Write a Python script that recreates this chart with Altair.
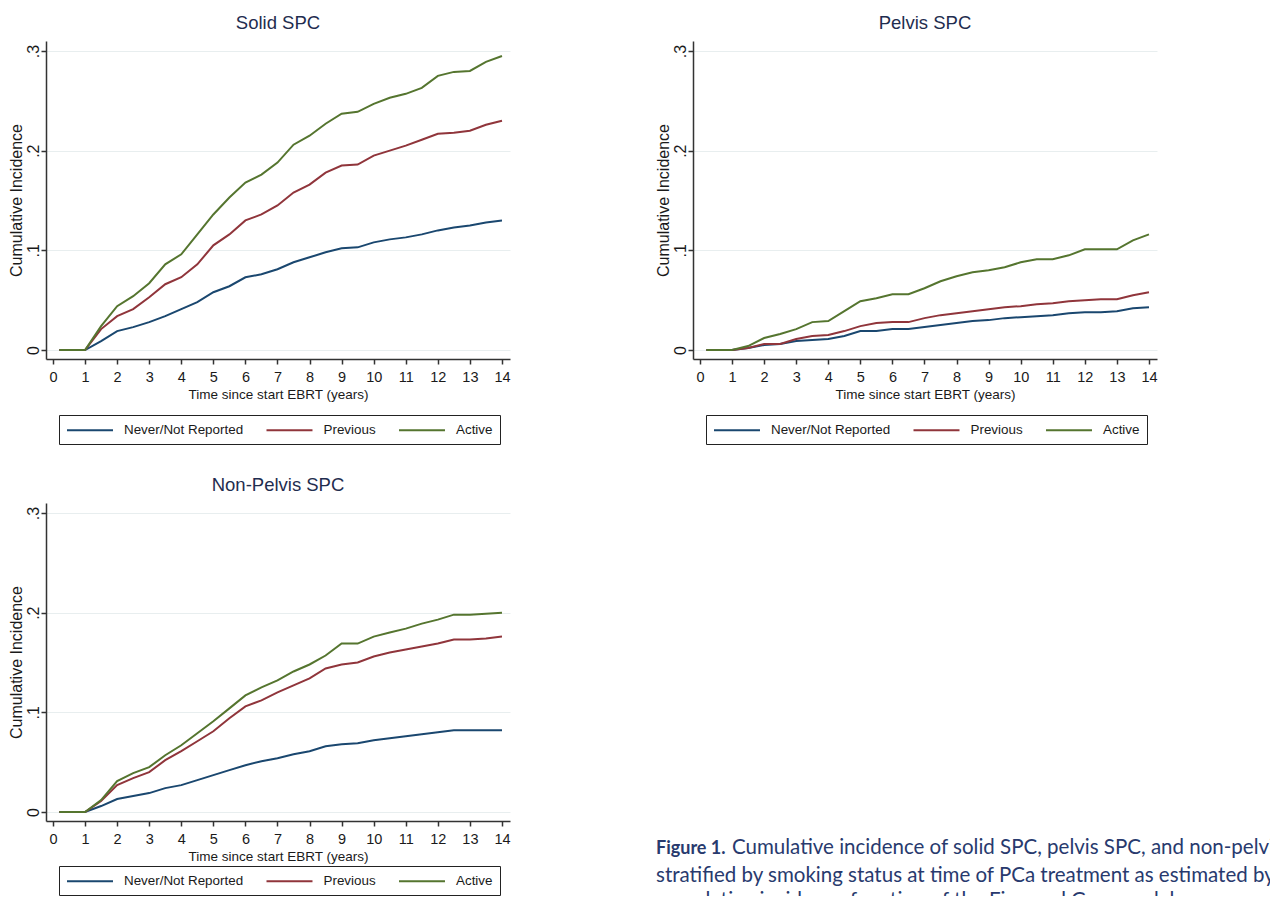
import altair as alt
import pandas as pd

# ---------------- data ----------------
TIMES = [0.2, 1.0, 1.5, 2.0, 2.5, 3.0, 3.5, 4.0, 4.5, 5.0, 5.5, 6.0, 6.5, 7.0,
         7.5, 8.0, 8.5, 9.0, 9.5, 10.0, 10.5, 11.0, 11.5, 12.0, 12.5, 13.0, 13.5, 14.0]

GROUPS = ["Never/Not Reported", "Previous", "Active"]
COLORS = ["#1a476f", "#90353b", "#55752f"]

solid_never = [0, 0, .009, .019, .023, .028, .034, .041, .048, .058, .064, .073, .076, .081,
               .088, .093, .098, .102, .103, .108, .111, .113, .116, .120, .123, .125, .128, .130]
solid_prev = [0, 0, .021, .034, .041, .053, .066, .073, .086, .105, .116, .130, .136, .145,
              .158, .166, .178, .185, .186, .195, .200, .205, .211, .217, .218, .220, .226, .230]
solid_active = [0, 0, .024, .044, .054, .067, .086, .096, .116, .136, .153, .168, .176, .188,
                .206, .215, .227, .237, .239, .247, .253, .257, .263, .275, .279, .280, .289, .295]

pelvis_never = [0, 0, .002, .005, .006, .009, .010, .011, .014, .019, .019, .021, .021, .023,
                .025, .027, .029, .030, .032, .033, .034, .035, .037, .038, .038, .039, .042, .043]
pelvis_prev = [0, 0, .002, .006, .006, .011, .014, .015, .019, .024, .027, .028, .028, .032,
               .035, .037, .039, .041, .043, .044, .046, .047, .049, .050, .051, .051, .055, .058]
pelvis_active = [0, 0, .004, .012, .016, .021, .028, .029, .039, .049, .052, .056, .056, .062,
                 .069, .074, .078, .080, .083, .088, .091, .091, .095, .101, .101, .101, .110, .116]

nonpelvis_never = [0, 0, .006, .013, .016, .019, .024, .027, .032, .037, .042, .047, .051, .054,
                   .058, .061, .066, .068, .069, .072, .074, .076, .078, .080, .082, .082, .082, .082]
nonpelvis_prev = [0, 0, .011, .027, .034, .040, .052, .061, .071, .081, .094, .106, .112, .120,
                  .127, .134, .144, .148, .150, .156, .160, .163, .166, .169, .173, .173, .174, .176]
nonpelvis_active = [0, 0, .012, .031, .039, .045, .057, .067, .079, .091, .104, .117, .125, .132,
                    .141, .148, .157, .169, .169, .176, .180, .184, .189, .193, .198, .198, .199, .200]

PANEL_TITLES = ["Solid SPC", "Pelvis SPC", "Non-Pelvis SPC"]
X_TICKS = list(range(0, 15))
Y_TICKS = [0, 0.1, 0.2, 0.3]
X_TITLE = "Time since start EBRT (years)"
Y_TITLE = "Cumulative Incidence"

CAP_BOLD = "Figure 1."
CAP_LINE1 = "Cumulative incidence of solid SPC, pelvis SPC, and non-pelvis SPC"
CAP_REST = ["stratified by smoking status at time of PCa treatment as estimated by the",
            "cumulative incidence function of the Fine and Gray model."]

# ---------------- styling ----------------
SANS = "Liberation Sans, Arial, sans-serif"
CAPFONT = "Lato, Open Sans, sans-serif"
CAP_COL = "#283a6e"
AXIS_COL = "#333333"
TXT_COL = "#1a1a1a"
W, H = 464, 318


def panel(title, series, legend_y):
    rows = []
    for g, vals in zip(GROUPS, series):
        for t, v in zip(TIMES, vals):
            rows.append({"t": t, "v": v, "g": g})
    df = pd.DataFrame(rows)
    return (
        alt.Chart(df, title=alt.Title(title, font=SANS, fontSize=18.5, fontWeight="normal",
                                      color="#1f2d4f", anchor="middle", frame="group", offset=8.5))
        .mark_line(strokeWidth=2, clip=True)
        .encode(
            x=alt.X("t:Q",
                    scale=alt.Scale(domain=[-0.218, 14.25], nice=False, zero=False),
                    axis=alt.Axis(values=X_TICKS, format="d", title=X_TITLE, grid=False,
                                  labelFont=SANS, labelFontSize=14.5, labelColor=TXT_COL,
                                  labelPadding=6, labelFlush=False, labelOverlap=False,
                                  tickSize=5, tickColor=AXIS_COL, tickWidth=1.5,
                                  domainColor=AXIS_COL, domainWidth=1.5,
                                  titleFont=SANS, titleFontSize=13.5, titleFontWeight="normal",
                                  titleColor=TXT_COL, titlePadding=4)),
            y=alt.Y("v:Q",
                    scale=alt.Scale(domain=[-0.009, 0.31], nice=False, zero=False),
                    axis=alt.Axis(values=Y_TICKS,
                                  labelExpr="datum.value == 0 ? '0' : '.' + format(datum.value * 10, '.0f')",
                                  labelAngle=270, labelAlign="center", labelBaseline="alphabetic",
                                  labelFont=SANS, labelFontSize=16, labelColor=TXT_COL, labelPadding=3,
                                  tickSize=5, tickColor=AXIS_COL, tickWidth=1.5,
                                  domainColor=AXIS_COL, domainWidth=1.5,
                                  grid=True, gridColor="#e8eeef", gridWidth=1,
                                  title=Y_TITLE, titleFont=SANS, titleFontSize=16,
                                  titleFontWeight="normal", titleColor=TXT_COL, titlePadding=0.5)),
            color=alt.Color("g:N",
                            scale=alt.Scale(domain=GROUPS, range=COLORS),
                            legend=alt.Legend(title=None, orient="none", legendX=13, legendY=legend_y,
                                              direction="horizontal", columns=3,
                                              symbolType="M-1,0H5.57", symbolSize=196,
                                              symbolStrokeWidth=2, labelOffset=42,
                                              labelFont=SANS, labelFontSize=13.4, labelColor=TXT_COL,
                                              labelLimit=300, padding=7, columnPadding=18.5,
                                              strokeColor="#222222", fillColor="white")),
        )
        .properties(width=W, height=H)
    )


p1 = panel(PANEL_TITLES[0], [solid_never, solid_prev, solid_active], 374)
p2 = panel(PANEL_TITLES[1], [pelvis_never, pelvis_prev, pelvis_active], 374)
p3 = panel(PANEL_TITLES[2], [nonpelvis_never, nonpelvis_prev, nonpelvis_active], 363)

cap_bold = alt.Chart(pd.DataFrame({"txt": [CAP_BOLD]})).mark_text(
    font=CAPFONT, fontSize=18, fontWeight="bold", color=CAP_COL,
    align="left", baseline="alphabetic", clip=True
).encode(text="txt:N", x=alt.value(0), y=alt.value(351))

cap_l1 = alt.Chart(pd.DataFrame({"txt": [CAP_LINE1]})).mark_text(
    font=CAPFONT, fontSize=20.5, color=CAP_COL,
    align="left", baseline="alphabetic", clip=True
).encode(text="txt:N", x=alt.value(76), y=alt.value(351))

cap_rest = alt.Chart(pd.DataFrame({"txt": ["\n".join(CAP_REST)]})).mark_text(
    font=CAPFONT, fontSize=20.5, color=CAP_COL, lineBreak="\n", lineHeight=25,
    align="left", baseline="alphabetic", clip=True
).encode(text="txt:N", x=alt.value(0), y=alt.value(379))

caption = alt.layer(cap_bold, cap_l1, cap_rest).properties(width=614, height=393)

row1 = (alt.hconcat(p1, p2, spacing=183, bounds="flush")
        .resolve_scale(color="independent").resolve_legend(color="independent"))
row2 = (alt.hconcat(p3, caption, spacing=146, bounds="flush")
        .resolve_scale(color="independent").resolve_legend(color="independent"))

chart = (
    alt.vconcat(row1, row2, spacing=31)
    .resolve_scale(color="independent").resolve_legend(color="independent")
    .properties(padding={"top": 6, "left": 0, "right": 0, "bottom": 0}, background="white")
    .configure_view(strokeWidth=0)
)

chart.save("out.html", embed_options={"renderer": "svg", "actions": False})
